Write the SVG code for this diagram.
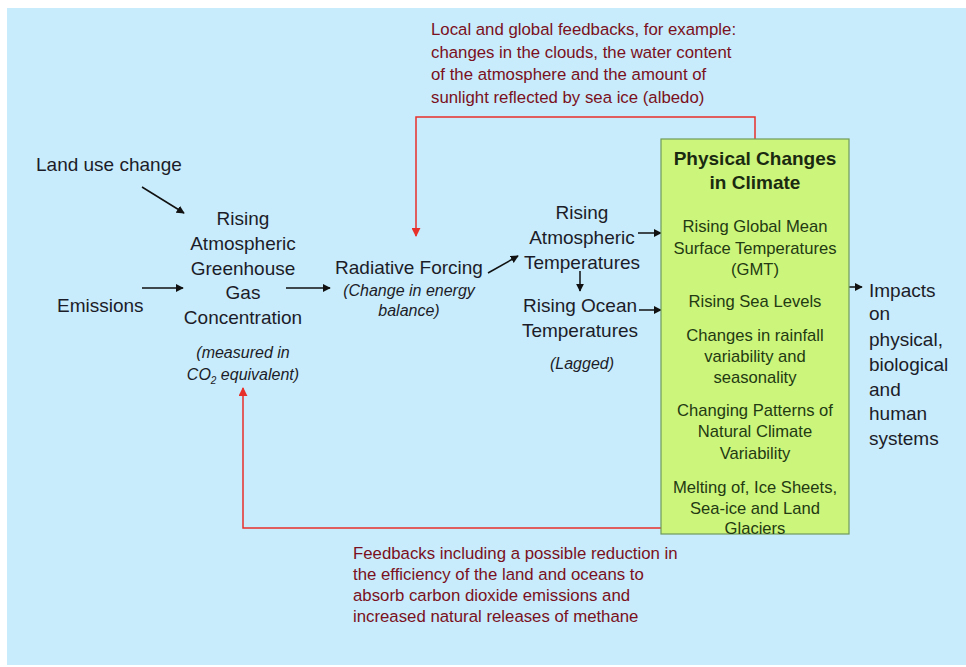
<svg xmlns="http://www.w3.org/2000/svg" width="966" height="667" viewBox="0 0 966 667">
<defs>
<marker id="ah" viewBox="0 0 10 10" refX="9" refY="5" markerWidth="8" markerHeight="8" markerUnits="userSpaceOnUse" orient="auto"><path d="M0,0 L10,5 L0,10 z" fill="#111"/></marker>
<marker id="ahr" viewBox="0 0 10 10" refX="9" refY="5" markerWidth="9" markerHeight="9" markerUnits="userSpaceOnUse" orient="auto"><path d="M0,0 L10,5 L0,10 z" fill="#e8302a"/></marker>
<style>
text{font-family:"Liberation Sans",Arial,sans-serif;}
.m{font-size:19px;fill:#1c1c28;}
.mc{font-size:19px;fill:#1c1c28;text-anchor:middle;}
.it{font-size:16px;font-style:italic;fill:#1c1c28;text-anchor:middle;}
.fb{font-size:16.8px;fill:#7a1020;}
.bx{font-size:16.6px;fill:#233a12;text-anchor:middle;}
.bh{font-size:19px;font-weight:bold;fill:#1a2a10;text-anchor:middle;}
.a{stroke:#111;stroke-width:1.5;fill:none;marker-end:url(#ah);}
.r{stroke:#e8302a;stroke-width:1.5;fill:none;}
</style>
</defs>
<rect x="0" y="0" width="966" height="667" fill="#ffffff"/>
<rect x="7" y="8" width="959" height="657" fill="#c8ecfc"/>

<g id="connectors">
<polyline class="r" points="755,139 755,117 416,117 416,236" marker-end="url(#ahr)"/>
<polyline class="r" points="661,528 243,528 243,388" marker-end="url(#ahr)"/>
<line class="a" x1="142" y1="187" x2="184" y2="213"/>
<line class="a" x1="142" y1="288" x2="183" y2="288"/>
<line class="a" x1="286" y1="288" x2="330" y2="288"/>
<line class="a" x1="488" y1="273" x2="518" y2="256"/>
<line class="a" x1="638" y1="233" x2="661" y2="233"/>
<line class="a" x1="580" y1="271" x2="580" y2="291"/>
<line class="a" x1="639" y1="310" x2="661" y2="310"/>
<line class="a" x1="826" y1="287" x2="862" y2="287"/>
</g>

<g id="feedback-top">
<text class="fb" x="431" y="35">Local and global feedbacks, for example:</text>
<text class="fb" x="431" y="57.5">changes in the clouds, the water content</text>
<text class="fb" x="431" y="80">of the atmosphere and the amount of</text>
<text class="fb" x="431" y="102.5">sunlight reflected by sea ice (albedo)</text>
</g>

<g id="land-use">
<text class="m" x="36" y="171">Land use change</text>
</g>
<g id="emissions">
<text class="m" x="57" y="312">Emissions</text>
</g>
<g id="ghg">
<text class="mc" x="243" y="225">Rising</text>
<text class="mc" x="243" y="250">Atmospheric</text>
<text class="mc" x="243" y="275">Greenhouse</text>
<text class="mc" x="243" y="299">Gas</text>
<text class="mc" x="243" y="324">Concentration</text>
<text class="it" x="243" y="358">(measured in</text>
<text class="it" x="243" y="380">CO<tspan font-size="10" dy="4">2</tspan><tspan dy="-4"> equivalent)</tspan></text>
</g>
<g id="radiative">
<text class="mc" x="409" y="274">Radiative Forcing</text>
<text class="it" x="409" y="296">(Change in energy</text>
<text class="it" x="409" y="316">balance)</text>
</g>
<g id="atmos-temp">
<text class="mc" x="582" y="219">Rising</text>
<text class="mc" x="582" y="244">Atmospheric</text>
<text class="mc" x="582" y="269">Temperatures</text>
</g>
<g id="ocean-temp">
<text class="mc" x="580" y="312">Rising Ocean</text>
<text class="mc" x="580" y="337">Temperatures</text>
<text class="it" x="582" y="369">(Lagged)</text>
</g>

<g id="physical-changes">
<rect x="661" y="139" width="188" height="395" fill="#ccf57c" stroke="#6f9a5a" stroke-width="1.2"/>
<text class="bh" x="755" y="165">Physical Changes</text>
<text class="bh" x="755" y="189">in Climate</text>
<text class="bx" x="755" y="232">Rising Global Mean</text>
<text class="bx" x="755" y="254">Surface Temperatures</text>
<text class="bx" x="755" y="275">(GMT)</text>
<text class="bx" x="755" y="307">Rising Sea Levels</text>
<text class="bx" x="755" y="341">Changes in rainfall</text>
<text class="bx" x="755" y="362">variability and</text>
<text class="bx" x="755" y="383">seasonality</text>
<text class="bx" x="755" y="416">Changing Patterns of</text>
<text class="bx" x="755" y="437">Natural Climate</text>
<text class="bx" x="755" y="459">Variability</text>
<text class="bx" x="755" y="493">Melting of, Ice Sheets,</text>
<text class="bx" x="755" y="514">Sea-ice and Land</text>
<text class="bx" x="755" y="534">Glaciers</text>
</g>

<g id="impacts">
<text class="m" x="869" y="297">Impacts</text>
<text class="m" x="869" y="320">on</text>
<text class="m" x="869" y="346">physical,</text>
<text class="m" x="869" y="371">biological</text>
<text class="m" x="869" y="396">and</text>
<text class="m" x="869" y="420">human</text>
<text class="m" x="869" y="445">systems</text>
</g>

<g id="feedback-bottom">
<text class="fb" x="353" y="559">Feedbacks including a possible reduction in</text>
<text class="fb" x="353" y="580">the efficiency of the land and oceans to</text>
<text class="fb" x="353" y="601">absorb carbon dioxide emissions and</text>
<text class="fb" x="353" y="622">increased natural releases of methane</text>
</g>
</svg>
